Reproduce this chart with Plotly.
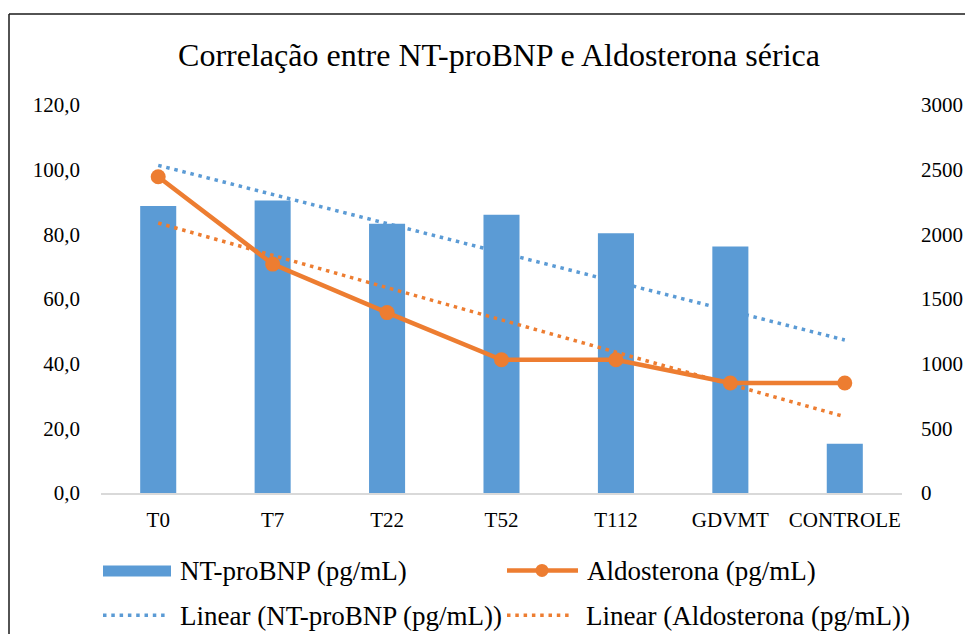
import numpy as np
import plotly.graph_objects as go

# ---------------- data ----------------
categories = ["T0", "T7", "T22", "T52", "T112", "GDVMT", "CONTROLE"]
nt_probnp = [2220, 2261, 2081, 2151, 2009, 1906, 380]       # pg/mL, right axis
aldosterona = [97.8, 70.8, 55.8, 41.2, 41.2, 34.0, 34.0]    # pg/mL, left axis
left_ticks = [0, 20, 40, 60, 80, 100, 120]
right_ticks = [0, 500, 1000, 1500, 2000, 2500, 3000]
title_text = "Correlação entre NT-proBNP e Aldosterona sérica"
name_bar = "NT-proBNP (pg/mL)"
name_line = "Aldosterona (pg/mL)"
name_trend_bar = "Linear (NT-proBNP (pg/mL))"
name_trend_line = "Linear (Aldosterona (pg/mL))"

BLUE = "#5B9BD5"
ORANGE = "#ED7D31"
FONT = "Liberation Serif, Times New Roman, serif"

# linear trendlines (least squares over category index, like Excel)
xi = np.arange(len(categories))
b_slope, b_int = np.polyfit(xi, nt_probnp, 1)
a_slope, a_int = np.polyfit(xi, aldosterona, 1)
trend_x = [categories[0], categories[-1]]
trend_bar = [b_int + b_slope * xi[0], b_int + b_slope * xi[-1]]
trend_line = [a_int + a_slope * xi[0], a_int + a_slope * xi[-1]]

# ---------------- geometry (page pixels; page body has 8px margin) ----------------
OFF = 8
W, H = 973 - 2 * OFF, 642 - 2 * OFF
L, R, T, B = 101, 902, 105, 493.5   # plot area in page pixels


def px(x):
    return (x - L) / (R - L)


def py(y):
    return (B - y) / (B - T)


fig = go.Figure()

# blue trend (bottom layer, behind bars)
fig.add_trace(go.Scatter(
    x=trend_x, y=trend_bar, mode="lines", name=name_trend_bar,
    line=dict(color=BLUE, width=3.5, dash="3.5px,4.8px"),
    yaxis="y", showlegend=False, hoverinfo="skip"))

# bars
fig.add_trace(go.Bar(
    x=categories, y=nt_probnp, name=name_bar,
    marker=dict(color=BLUE, line=dict(width=0)),
    yaxis="y2", showlegend=False))

# orange trend + line (top layer)
fig.add_trace(go.Scatter(
    x=trend_x, y=trend_line, mode="lines", name=name_trend_line,
    line=dict(color=ORANGE, width=3.5, dash="3.5px,4.8px"),
    yaxis="y3", showlegend=False, hoverinfo="skip"))
fig.add_trace(go.Scatter(
    x=categories, y=aldosterona, mode="lines+markers", name=name_line,
    line=dict(color=ORANGE, width=4.5),
    marker=dict(color=ORANGE, size=15),
    yaxis="y3", showlegend=False))

tickfont = dict(family=FONT, size=21, color="#000000")

fig.update_layout(
    width=W, height=H,
    margin=dict(l=L - OFF, r=(W + OFF - R), t=T - OFF, b=(H + OFF - B), pad=0,
                autoexpand=False),
    paper_bgcolor="white", plot_bgcolor="white",
    separators=",.",
    font=dict(family=FONT, color="#000000"),
    bargap=0.685,
    showlegend=False,
    title=dict(text=title_text, x=(499 - OFF) / W, xanchor="center",
               y=1 - (55 - OFF) / H, yanchor="middle",
               font=dict(family=FONT, size=32, color="#000000")),
    xaxis=dict(type="category", categoryorder="array", categoryarray=categories,
               showline=True, linecolor="#D9D9D9", linewidth=1.5, automargin=False,
               showgrid=False, zeroline=False, ticks="", tickfont=tickfont,
               ticklabelstandoff=7),
    yaxis=dict(side="right", range=[0, 3000], tickvals=right_ticks, tickformat="d",
               showgrid=False, zeroline=False, showline=False, ticks="",
               automargin=False, tickfont=tickfont, ticklabelstandoff=18),
    yaxis2=dict(overlaying="y", range=[0, 3000], visible=False, automargin=False),
    yaxis3=dict(overlaying="y", side="left", range=[0, 120], tickvals=left_ticks,
                tickformat=".1f", showgrid=False, zeroline=False, showline=False,
                automargin=False, ticks="", tickfont=tickfont, ticklabelstandoff=20),
)

shapes = []
# chart border (left and top visible)
shapes.append(dict(type="line", xref="paper", yref="paper",
                   x0=px(9), x1=px(990), y0=py(14), y1=py(14),
                   line=dict(color="#1a1a1a", width=1.5)))
shapes.append(dict(type="line", xref="paper", yref="paper",
                   x0=px(9), x1=px(9), y0=py(14), y1=py(660),
                   line=dict(color="#1a1a1a", width=1.5)))

# manual legend symbols
row1, row2 = 571, 616
shapes.append(dict(type="rect", xref="paper", yref="paper",
                   x0=px(103), x1=px(171), y0=py(row1 - 5), y1=py(row1 + 6),
                   fillcolor=BLUE, line=dict(width=0)))
shapes.append(dict(type="line", xref="paper", yref="paper",
                   x0=px(507), x1=px(578), y0=py(row1), y1=py(row1),
                   line=dict(color=ORANGE, width=4.5)))
shapes.append(dict(type="circle", xref="paper", yref="paper",
                   x0=px(535.5), x1=px(548.5), y0=py(row1 - 6.5), y1=py(row1 + 6.5),
                   fillcolor=ORANGE, line=dict(width=0)))
shapes.append(dict(type="line", xref="paper", yref="paper",
                   x0=px(103), x1=px(167), y0=py(row2), y1=py(row2),
                   line=dict(color=BLUE, width=3.5, dash="3.5px,4.8px")))
shapes.append(dict(type="line", xref="paper", yref="paper",
                   x0=px(507), x1=px(571), y0=py(row2), y1=py(row2),
                   line=dict(color=ORANGE, width=3.5, dash="3.5px,4.8px")))
fig.update_layout(shapes=shapes)

legfont = dict(family=FONT, size=27, color="#000000")
for text, x, y in [(name_bar, 178, row1), (name_line, 585, row1),
                   (name_trend_bar, 178, row2), (name_trend_line, 584, row2)]:
    fig.add_annotation(text=text, xref="paper", yref="paper", x=px(x), y=py(y + 1),
                       xanchor="left", yanchor="middle", showarrow=False,
                       font=legfont)

fig.write_html("out.html")
